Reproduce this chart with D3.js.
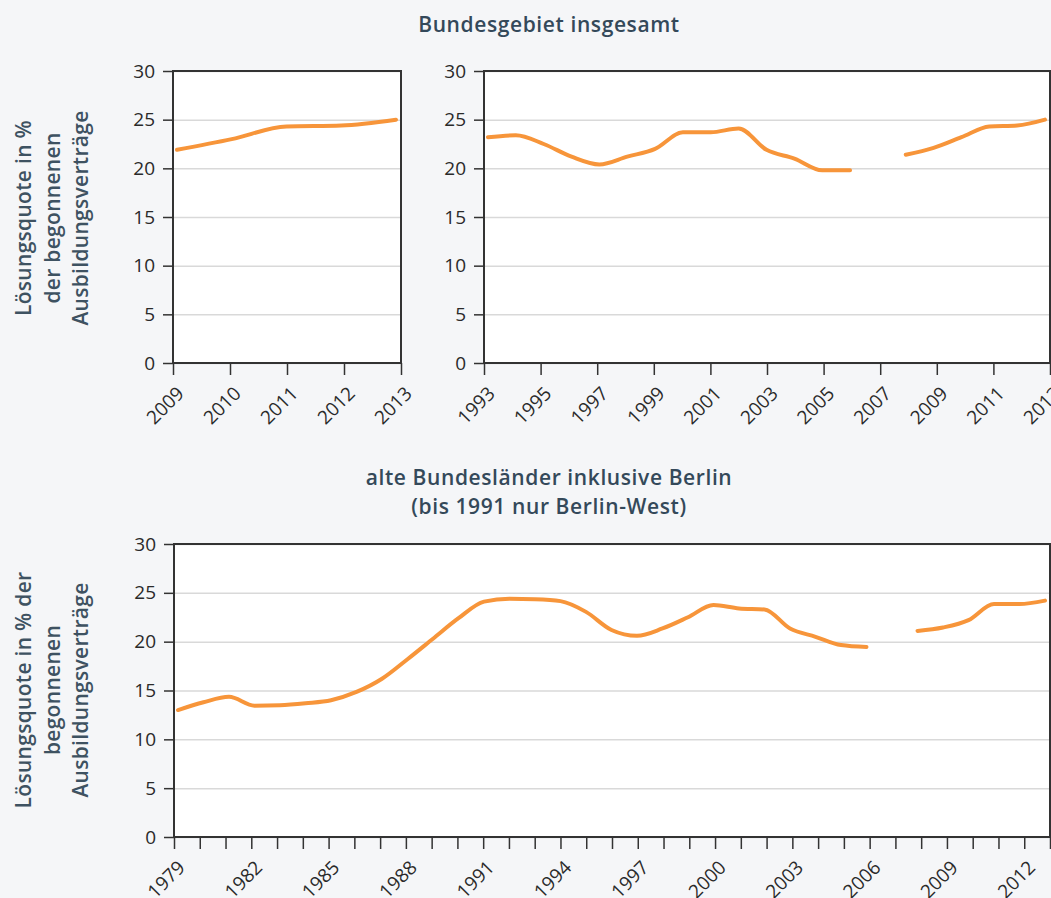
<!DOCTYPE html>
<html>
<head>
<meta charset="utf-8">
<script src="https://cdn.jsdelivr.net/npm/d3@7"></script>
<style>
  body { margin: 0; background: #f5f6f8; }
  svg { display: block; font-family: "Open Sans", "Noto Sans", sans-serif; }
  svg text { font-family: "Open Sans", "Noto Sans", sans-serif; }
  .title { fill: #34495a; font-size: 21px; font-weight: 600; letter-spacing: 0.6px; }
  .ylabel { fill: #3e5261; font-size: 21px; font-weight: 600; letter-spacing: 0.3px; }
  .tick text { fill: #2a2a2a; font-family: "Open Sans", sans-serif; }
  .tick line { stroke: #333; stroke-width: 1.5; }
  .grid .tick line { stroke: #d9d9d9; stroke-width: 1.5; }
  .domain { display: none; }
</style>
</head>
<body>
<div id="chart"></div>
<script>
// Bundesgebiet insgesamt, 2009-2013
const yearsShort = [2009, 2010, 2011, 2012, 2013];
const valuesShort = [21.9, 23.0, 24.3, 24.4, 25.0];

// Bundesgebiet insgesamt, 1993-2013 (2007 fehlt)
const yearsTotal = d3.range(1993, 2014);
const valuesTotal = [23.2, 23.4, 22.5, 21.2, 20.4, 21.2, 22.0, 23.7, 23.7, 24.1,
  21.9, 21.0, 19.8, 19.8, null, 21.4, 22.1, 23.2, 24.3, 24.4, 25.0];

// alte Bundeslaender inkl. Berlin, 1979-2013 (2007 fehlt)
const yearsWest = d3.range(1979, 2014);
const valuesWest = [13.0, 13.8, 14.35, 13.45, 13.5, 13.7, 14.0, 14.85, 16.2, 18.2,
  20.3, 22.4, 24.1, 24.4, 24.35, 24.15, 23.05, 21.2, 20.6, 21.35,
  22.5, 23.75, 23.4, 23.3, 21.35, 20.5, 19.65, 19.45, null, 21.1,
  21.45, 22.2, 23.85, 23.85, 24.2];

const yTicks = [0, 5, 10, 15, 20, 25, 30];

const svg = d3.select("#chart")
    .append("svg")
    .attr("width", 1051)
    .attr("height", 898);

// titles
svg.append("text").attr("class", "title")
    .attr("x", 549).attr("y", 32)
    .attr("text-anchor", "middle")
    .text("Bundesgebiet insgesamt");

const t2 = svg.append("text").attr("class", "title")
    .attr("x", 549).attr("y", 485)
    .attr("text-anchor", "middle");
t2.append("tspan").attr("x", 549).text("alte Bundesländer inklusive Berlin");
t2.append("tspan").attr("x", 549).attr("dy", 29).text("(bis 1991 nur Berlin-West)");

function yLabel(lines, cy) {
    const t = svg.append("text").attr("class", "ylabel")
        .attr("text-anchor", "middle")
        .attr("transform", `translate(31,${cy}) rotate(-90)`);
    lines.forEach((l, i) => {
        t.append("tspan").attr("x", 0).attr("dy", i === 0 ? 0 : 28.5).text(l);
    });
}

yLabel(["Lösungsquote in %", "der begonnenen", "Ausbildungsverträge"], 218);
yLabel(["Lösungsquote in % der", "begonnenen", "Ausbildungsverträge"], 690);

function drawPanel(box, years, values, tickYears, labelYears) {
    const x = d3.scaleLinear()
        .domain([years[0], years[years.length - 1]])
        .range([box.x0, box.x1]);
    const y = d3.scaleLinear()
        .domain([0, 30])
        .range([box.y1, box.y0]);

    const g = svg.append("g");

    g.append("rect")
        .attr("x", box.x0).attr("y", box.y0)
        .attr("width", box.x1 - box.x0).attr("height", box.y1 - box.y0)
        .attr("fill", "#fff");

    // grid
    g.append("g").attr("class", "grid")
        .attr("transform", `translate(${box.x0},0)`)
        .call(d3.axisLeft(y).tickValues(yTicks).tickSize(-(box.x1 - box.x0)).tickFormat(""));

    // frame
    g.append("rect")
        .attr("x", box.x0).attr("y", box.y0)
        .attr("width", box.x1 - box.x0).attr("height", box.y1 - box.y0)
        .attr("fill", "none")
        .attr("stroke", "#333")
        .attr("stroke-width", 2);

    // y axis
    g.append("g")
        .attr("transform", `translate(${box.x0},0)`)
        .call(d3.axisLeft(y).tickValues(yTicks).tickSize(10).tickPadding(8))
        .selectAll(".tick text").style("font-size", "19px");

    // x axis
    const xa = g.append("g")
        .attr("transform", `translate(0,${box.y1})`)
        .call(d3.axisBottom(x)
            .tickValues(tickYears)
            .tickSize(12)
            .tickFormat(d => labelYears.includes(d) ? d : ""));
    xa.selectAll(".tick text")
        .style("font-size", "19px")
        .attr("text-anchor", "end")
        .attr("dy", "0.35em")
        .attr("y", 0)
        .attr("transform", "translate(7,27) rotate(-45)");

    // line, slightly inset like the original
    const xl = x.copy().range([box.x0 + 4, box.x1 - 5]);
    const data = years.map((yr, i) => ({year: yr, value: values[i]}));
    const line = d3.line()
        .defined(d => d.value != null)
        .x(d => xl(d.year))
        .y(d => y(d.value))
        .curve(d3.curveMonotoneX);

    g.append("path")
        .datum(data)
        .attr("fill", "none")
        .attr("stroke", "#f7953a")
        .attr("stroke-width", 4)
        .attr("stroke-linecap", "round")
        .attr("d", line);
}

drawPanel({x0: 173, x1: 401, y0: 71, y1: 363}, yearsShort, valuesShort,
    yearsShort, yearsShort);

drawPanel({x0: 484, x1: 1050, y0: 71, y1: 363}, yearsTotal, valuesTotal,
    d3.range(1993, 2014, 2), d3.range(1993, 2014, 2));

drawPanel({x0: 174, x1: 1050, y0: 544, y1: 837}, yearsWest, valuesWest,
    yearsWest, d3.range(1979, 2014, 3));
</script>
</body>
</html>
